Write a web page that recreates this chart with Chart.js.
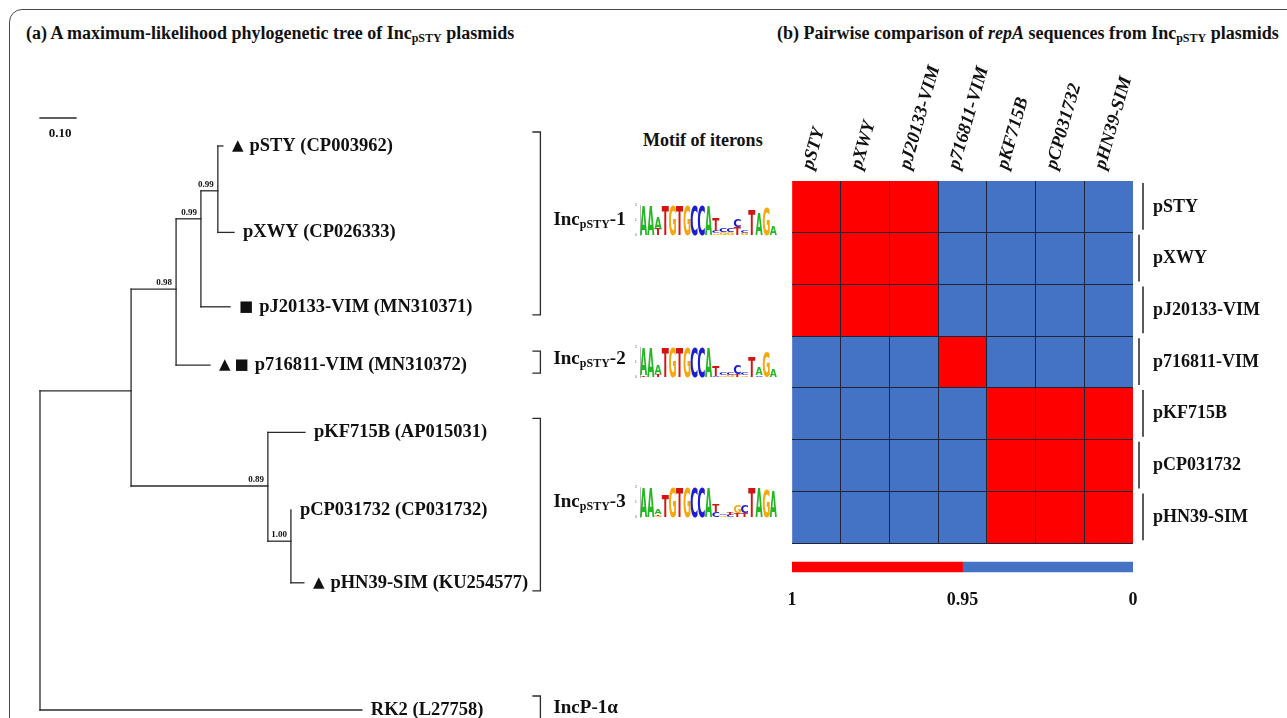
<!DOCTYPE html>
<html>
<head>
<meta charset="utf-8">
<script src="https://cdn.jsdelivr.net/npm/chart.js@4.4.1/dist/chart.umd.min.js"></script>
<style>
  body { margin: 0; width: 1287px; height: 718px; background: #fff; position: relative; overflow: hidden; font-family: "Liberation Serif", serif; color: #111; }
  .frame { position: absolute; left: 9px; top: 9px; width: 1300px; height: 740px; border: 1.5px solid #4a4a4a; border-radius: 13px; }
  .title { position: absolute; font-weight: bold; font-size: 18px; line-height: 20px; white-space: nowrap; }
  .title sub { font-size: 12px; vertical-align: -3px; line-height: 0; }
  canvas { position: absolute; }
</style>
</head>
<body>
<div class="frame"></div>
<div class="title" style="left:26px;top:23px">(a) A maximum-likelihood phylogenetic tree of Inc<sub>pSTY</sub> plasmids</div>
<div class="title" style="left:777px;top:23px">(b) Pairwise comparison of <i>repA</i> sequences from Inc<sub>pSTY</sub> plasmids</div>
<div class="title" style="left:643px;top:130px;font-size:18px">Motif of iterons</div>

<canvas id="tree" width="630" height="718" style="left:0;top:0"></canvas>
<canvas id="logo1" width="155" height="46" style="left:630px;top:196px"></canvas>
<canvas id="logo2" width="155" height="46" style="left:630px;top:338px"></canvas>
<canvas id="logo3" width="155" height="46" style="left:630px;top:478px"></canvas>
<canvas id="heat" width="517" height="534" style="left:770px;top:40px"></canvas>
<canvas id="scalebar" width="517" height="54" style="left:770px;top:552px"></canvas>

<script>
// ---- tree (a) ----
// node table: internal nodes first, then leaves
const nodeNames = ['root', 'n1', 'n2', 'n3', 'n4', 'n5', 'n6',
  'pSTY (CP003962)', 'pXWY (CP026333)', 'pJ20133-VIM (MN310371)', 'p716811-VIM (MN310372)',
  'pKF715B (AP015031)', 'pCP031732 (CP031732)', 'pHN39-SIM (KU254577)', 'RK2 (L27758)'];
const nodeParents = [-1, 0, 1, 2, 3, 1, 5, 4, 4, 3, 2, 5, 6, 6, 0];
const nodeDepths = [0, 0.253, 0.378, 0.447, 0.494, 0.633, 0.697, 0.508, 0.539, 0.528, 0.472, 0.736, 0.697, 0.733, 0.894];
const nodeRows = [5.05, 3.06, 1.79, 0.91, 0.56, 4.25, 4.94, 0, 1.08, 2.01, 2.74, 3.58, 4.55, 5.46, 7.05];
const nodeSupport = ['', '', '0.98', '0.99', '0.99', '0.89', '1.00', '', '', '', '', '', '', '', ''];
const nodeMarkers = ['', '', '', '', '', '', '', '▲', '', '■', '▲■', '', '', '▲', ''];
const groupLeaves = [[7, 9], [10, 10], [11, 13], [14, 14]];
const groupMain = ['Inc', 'Inc', 'Inc', 'IncP-1α'];
const groupSub = ['pSTY', 'pSTY', 'pSTY', ''];
const groupSuffix = ['-1', '-2', '-3', ''];
const scaleBar = [0, 0.1];
const scaleBarRow = -0.35;
const scaleBarLabel = '0.10';

// ---- iteron motifs (bits per letter, per position) ----
const motif1 = [[['A',1.95]],[['A',1.95]],[['T',0.4],['A',0.8]],[['T',1.95]],[['G',1.95]],[['T',1.95]],[['G',1.95]],[['C',1.95]],[['C',1.95]],[['A',1.95]],
  [['G',0.1],['C',0.15],['T',0.9]],[['G',0.18],['C',0.22]],[['G',0.2],['C',0.25]],[['T',0.5],['C',0.55]],[['G',0.15],['C',0.2]],
  [['T',1.7]],[['A',1.5]],[['G',1.85]],[['A',0.6]]];
const motif2 = [[['T',0.1],['A',1.85]],[['A',1.9]],[['T',0.2],['A',0.6]],[['T',1.95]],[['G',1.95]],[['T',1.95]],[['G',1.95]],[['C',1.95]],[['C',1.95]],[['A',1.95]],
  [['C',0.1],['T',0.7]],[['G',0.1],['C',0.15]],[['G',0.15],['C',0.2]],[['T',0.2],['C',0.6]],[['G',0.1],['C',0.15]],
  [['T',1.3]],[['C',0.1],['A',0.5]],[['G',1.7]],[['A',0.5]]];
const motif3 = [[['A',1.95]],[['A',1.9]],[['G',0.1],['T',0.1],['A',0.35]],[['T',1.5]],[['G',1.95]],[['T',1.95]],[['G',1.95]],[['C',1.95]],[['C',1.95]],[['A',1.95]],
  [['C',0.35],['T',0.5]],[['G',0.1],['C',0.1]],[['C',0.15],['T',0.2]],[['T',0.25],['G',0.55]],[['T',0.25],['C',0.55]],
  [['T',1.95]],[['A',1.95]],[['G',1.9]],[['A',1.75]]];

// ---- heatmap (b) ----
const rowNames = ['pSTY', 'pXWY', 'pJ20133-VIM', 'p716811-VIM', 'pKF715B', 'pCP031732', 'pHN39-SIM'];
const colNames = ['pSTY', 'pXWY', 'pJ20133-VIM', 'p716811-VIM', 'pKF715B', 'pCP031732', 'pHN39-SIM'];
// 1 = identity >= 0.95, 0 = identity < 0.95
const highIdentity = [
  [1, 1, 1, 0, 0, 0, 0],
  [1, 1, 1, 0, 0, 0, 0],
  [1, 1, 1, 0, 0, 0, 0],
  [0, 0, 0, 1, 0, 0, 0],
  [0, 0, 0, 0, 1, 1, 1],
  [0, 0, 0, 0, 1, 1, 1],
  [0, 0, 0, 0, 1, 1, 1]];
const legendTicks = ['1', '0.95', '0'];
const legendSpans = [1, 1];

const RED = '#ff0000';
const BLUE = '#4472c4';
const SERIF = '"Liberation Serif", serif';
const INK = '#111';

// tree --------------------------------------------------------------
const BRACKET_X = 1.39;
const kidsOf = i => nodeParents.map((p, k) => p === i ? k : -1).filter(k => k >= 0);

const segs = [];
nodeParents.forEach((p, i) => {
  if (p < 0 || nodeDepths[p] === nodeDepths[i]) return;
  segs.push([{x: nodeDepths[p], y: nodeRows[i]}, {x: nodeDepths[i], y: nodeRows[i]}]);
});
nodeNames.forEach((n, i) => {
  const kids = kidsOf(i).map(k => nodeRows[k]);
  if (kids.length) segs.push([{x: nodeDepths[i], y: Math.min(...kids)}, {x: nodeDepths[i], y: Math.max(...kids)}]);
});
segs.push([{x: scaleBar[0], y: scaleBarRow}, {x: scaleBar[1], y: scaleBarRow}]);

function drawInc(ctx, x, y, g) {
  ctx.textAlign = 'left';
  ctx.textBaseline = 'middle';
  ctx.font = 'bold 19px ' + SERIF;
  ctx.fillText(groupMain[g], x, y);
  x += ctx.measureText(groupMain[g]).width;
  if (groupSub[g]) {
    ctx.font = 'bold 12px ' + SERIF;
    ctx.fillText(groupSub[g], x, y + 5);
    x += ctx.measureText(groupSub[g]).width;
  }
  ctx.font = 'bold 19px ' + SERIF;
  ctx.fillText(groupSuffix[g], x, y);
}

new Chart(document.getElementById('tree'), {
  type: 'scatter',
  data: {
    datasets: segs.map(s => ({
      data: s, showLine: true, borderColor: '#2a2a2a', borderWidth: 1.3,
      borderCapStyle: 'square', pointRadius: 0, clip: false
    }))
  },
  options: {
    responsive: false, animation: false,
    layout: {autoPadding: false, padding: {left: 40, right: 86, top: 34, bottom: 4}},
    plugins: {legend: {display: false}, tooltip: {enabled: false}},
    scales: {
      x: {display: false, min: 0, max: 1.4},
      y: {display: false, min: -1.4, max: 7.1, reverse: true}
    }
  },
  plugins: [{
    id: 'treeText',
    afterDatasetsDraw(chart) {
      const {ctx, scales: {x, y}} = chart;
      ctx.save();
      ctx.fillStyle = INK;
      ctx.strokeStyle = '#2a2a2a';
      nodeNames.forEach((name, i) => {
        const px = x.getPixelForValue(nodeDepths[i]);
        const py = y.getPixelForValue(nodeRows[i]);
        if (kidsOf(i).length === 0) {
          let tx = px + 9;
          ctx.textAlign = 'left';
          ctx.textBaseline = 'middle';
          for (const m of nodeMarkers[i]) {
            ctx.font = '15px "DejaVu Sans"';
            ctx.fillText(m, tx, py);
            tx += ctx.measureText(m).width + 4;
          }
          if (nodeMarkers[i]) tx += 2;
          ctx.font = 'bold 18.5px ' + SERIF;
          ctx.fillText(name, tx, py);
        }
        if (nodeSupport[i]) {
          ctx.font = 'bold 9px ' + SERIF;
          ctx.textAlign = 'right';
          ctx.textBaseline = 'bottom';
          ctx.fillText(nodeSupport[i], px - 4, py - 2);
        }
      });
      // scale bar label
      ctx.font = 'bold 13px ' + SERIF;
      ctx.textAlign = 'center';
      ctx.textBaseline = 'middle';
      ctx.fillText(scaleBarLabel, x.getPixelForValue((scaleBar[0] + scaleBar[1]) / 2) + 2, y.getPixelForValue(scaleBarRow) + 16);
      // group brackets
      const bx = x.getPixelForValue(BRACKET_X);
      ctx.lineWidth = 1.3;
      groupLeaves.forEach(([a, b], g) => {
        const last = g === groupLeaves.length - 1;
        const top = y.getPixelForValue(nodeRows[a]) - 14;
        const bot = y.getPixelForValue(nodeRows[b]) + (last ? 30 : 8);
        ctx.beginPath();
        ctx.moveTo(bx - 8, top); ctx.lineTo(bx, top); ctx.lineTo(bx, bot); ctx.lineTo(bx - 8, bot);
        ctx.stroke();
        drawInc(ctx, bx + 13, last ? top + 12 : (top + bot) / 2 - 3, g);
      });
      ctx.restore();
    }
  }]
});

// motif logos --------------------------------------------------------
const letterColors = {A: '#22b822', C: '#1c1cd0', G: '#f5a80c', T: '#d41414'};

function drawGlyph(ctx, L, x, y, w, h) {
  if (h < 0.3) return;
  ctx.save();
  ctx.font = 'bold 100px "DejaVu Sans"';
  const m = ctx.measureText(L);
  const gw = m.actualBoundingBoxLeft + m.actualBoundingBoxRight;
  const gh = m.actualBoundingBoxAscent + m.actualBoundingBoxDescent;
  ctx.translate(x, y);
  ctx.scale(w / gw, h / gh);
  ctx.fillStyle = letterColors[L];
  ctx.textBaseline = 'alphabetic';
  ctx.textAlign = 'left';
  ctx.fillText(L, m.actualBoundingBoxLeft, m.actualBoundingBoxAscent);
  ctx.restore();
}

function makeLogo(id, motif) {
  new Chart(document.getElementById(id), {
    type: 'bar',
    data: {
      labels: motif.map((p, i) => i + 1),
      datasets: [{data: motif.map(p => p.reduce((s, l) => s + l[1], 0)), backgroundColor: 'rgba(0,0,0,0)'}]
    },
    options: {
      responsive: false, animation: false,
      layout: {autoPadding: false, padding: {left: 0, right: 8, top: 9, bottom: 0}},
      plugins: {legend: {display: false}, tooltip: {enabled: false}},
      scales: {
        x: {
          grid: {display: false}, border: {display: false},
          ticks: {font: {size: 3}, color: '#777', padding: 1, minRotation: 90, maxRotation: 90},
          afterFit: s => { s.height = 7; }
        },
        y: {
          min: 0, max: 2,
          grid: {display: false, tickLength: 2},
          border: {color: '#888', width: 0.6},
          ticks: {stepSize: 1, font: {size: 4}, color: '#777', padding: 1},
          afterFit: s => { s.width = 10; }
        }
      }
    },
    plugins: [{
      id: 'letters',
      afterDatasetsDraw(chart) {
        const {ctx, scales: {x, y}} = chart;
        const cw = (x.right - x.left) / motif.length;
        motif.forEach((stack, i) => {
          const cx = x.getPixelForValue(i);
          let base = 0;
          [...stack].sort((a, b) => a[1] - b[1]).forEach(([L, h]) => {
            const yb = y.getPixelForValue(base);
            const yt = y.getPixelForValue(base + h);
            drawGlyph(ctx, L, cx - cw * 0.49, yt, cw * 0.98, yb - yt);
            base += h;
          });
        });
      }
    }]
  });
}
makeLogo('logo1', motif1);
makeLogo('logo2', motif2);
makeLogo('logo3', motif3);

// heatmap -------------------------------------------------------------
const edgeGrid = n => ctx => (ctx.index === 0 || ctx.index === n) ? 'rgba(0,0,0,0)' : '#1d2536';

new Chart(document.getElementById('heat'), {
  type: 'bar',
  data: {
    labels: rowNames,
    datasets: colNames.map((c, j) => ({
      label: c,
      data: rowNames.map(() => 1),
      backgroundColor: rowNames.map((r, i) => highIdentity[i][j] ? RED : BLUE),
      borderWidth: 0, barPercentage: 1, categoryPercentage: 1
    }))
  },
  options: {
    indexAxis: 'y',
    responsive: false, animation: false,
    layout: {autoPadding: false, padding: {left: 22, right: 0, top: 0, bottom: 6}},
    plugins: {legend: {display: false}, tooltip: {enabled: false}},
    scales: {
      x: {
        stacked: true, min: 0, max: colNames.length,
        ticks: {display: false, stepSize: 1},
        grid: {color: edgeGrid(colNames.length), lineWidth: 1, drawTicks: false, z: 1},
        border: {display: false},
        afterFit: s => { s.height = 0; }
      },
      x2: {
        type: 'category', position: 'top', labels: colNames, offset: true,
        grid: {display: false, drawTicks: false}, border: {display: false},
        ticks: {minRotation: 74, maxRotation: 74, padding: 9, labelOffset: 13, color: INK,
          font: {family: SERIF, size: 18.5, weight: 'bold', style: 'italic'}},
        afterFit: s => { s.height = 141; }
      },
      y: {
        stacked: true, position: 'right',
        grid: {color: edgeGrid(rowNames.length), lineWidth: 1, drawTicks: false, z: 1},
        border: {display: false},
        ticks: {padding: 20, color: INK, font: {family: SERIF, size: 18, weight: 'bold'}},
        afterFit: s => { s.width = 154; }
      }
    }
  },
  plugins: [{
    id: 'rowBars',
    afterDraw(chart) {
      const {ctx, chartArea, scales: {y}} = chart;
      const h = (chartArea.bottom - chartArea.top) / rowNames.length;
      ctx.save();
      ctx.strokeStyle = '#222';
      ctx.lineWidth = 1.5;
      rowNames.forEach((r, i) => {
        const py = y.getPixelForValue(i);
        const px = chartArea.right + (i % 2 === 0 ? 10 : 6);
        ctx.beginPath();
        ctx.moveTo(px, py - h / 2 + 2);
        ctx.lineTo(px, py + h / 2 - 3);
        ctx.stroke();
      });
      ctx.restore();
    }
  }]
});

// colour key ------------------------------------------------------------
new Chart(document.getElementById('scalebar'), {
  type: 'bar',
  data: {
    labels: [''],
    datasets: [
      {data: [legendSpans[0]], backgroundColor: RED, barThickness: 10, borderWidth: 0},
      {data: [legendSpans[1]], backgroundColor: BLUE, barThickness: 10, borderWidth: 0}
    ]
  },
  options: {
    indexAxis: 'y',
    responsive: false, animation: false,
    layout: {autoPadding: false, padding: {left: 22, right: 154, top: 2, bottom: 0}},
    plugins: {legend: {display: false}, tooltip: {enabled: false}},
    scales: {
      x: {
        stacked: true, min: 0, max: 2,
        grid: {display: false, drawTicks: false}, border: {display: false},
        ticks: {stepSize: 1, padding: 10, color: INK, font: {family: SERIF, size: 18, weight: 'bold'},
          callback: v => legendTicks[v]}
      },
      y: {stacked: true, display: false}
    }
  }
});
</script>
</body>
</html>
